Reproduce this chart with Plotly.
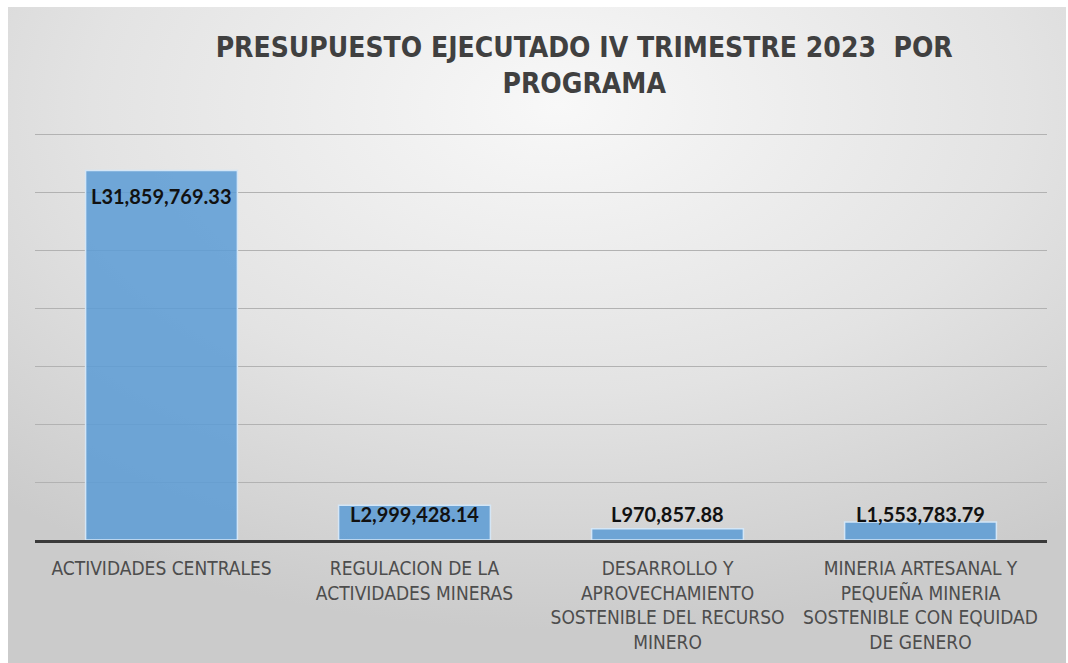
import base64

import plotly.graph_objects as go

W, H = 1068, 663

categories = [
    "ACTIVIDADES CENTRALES",
    "REGULACION DE LA<br>ACTIVIDADES MINERAS",
    "DESARROLLO Y<br>APROVECHAMIENTO<br>SOSTENIBLE DEL RECURSO<br>MINERO",
    "MINERIA ARTESANAL Y<br>PEQUEÑA MINERIA<br>SOSTENIBLE CON EQUIDAD<br>DE GENERO",
]
values = [31859769.33, 2999428.14, 970857.88, 1553783.79]
labels = [f"L{v:,.2f}" for v in values]

title_text = "PRESUPUESTO EJECUTADO IV TRIMESTRE 2023&nbsp; POR<br>PROGRAMA"

narrow = "Liberation Sans Narrow, DejaVu Sans Condensed, Arial Narrow, sans-serif"
label_font = "Lato, Open Sans, sans-serif"

# soft radial grey background like the Excel chart style
svg = (
    '<svg xmlns="http://www.w3.org/2000/svg" width="1058" height="656" '
    'preserveAspectRatio="none">'
    '<defs><radialGradient id="g" cx="52%" cy="15%" r="80%">'
    '<stop offset="0" stop-color="#f8f8f8"/>'
    '<stop offset="0.55" stop-color="#e3e3e3"/>'
    '<stop offset="1" stop-color="#cbcbcb"/>'
    "</radialGradient></defs>"
    '<rect width="100%" height="100%" fill="url(#g)"/></svg>'
)
bg_src = "data:image/svg+xml;base64," + base64.b64encode(svg.encode()).decode()

fig = go.Figure()

fig.add_trace(
    go.Bar(
        x=categories,
        y=values,
        marker=dict(
            color="rgba(91,155,213,0.85)",
            line=dict(color="#d4e6f6", width=1.5),
        ),
        width=0.6,
        hoverinfo="skip",
    )
)

# data labels: inside end for the tall bar, pushed just above the axis for the small ones
vmax = max(values)
for cat, v, txt in zip(categories, values, labels):
    if v > 0.1 * vmax:
        y, anchor, shift = v, "top", -12
    else:
        y, anchor, shift = 0, "bottom", 12
    fig.add_annotation(
        x=cat,
        y=y,
        text=f"<b>{txt}</b>",
        showarrow=False,
        yanchor=anchor,
        yshift=shift,
        font=dict(family=label_font, size=20, color="#111111"),
    )

y_top = 35.1e6
px_per = 406 / 35e6

fig.update_layout(
    width=W,
    height=H,
    margin=dict(l=0, r=0, t=0, b=0),
    paper_bgcolor="white",
    plot_bgcolor="rgba(0,0,0,0)",
    showlegend=False,
    bargap=0.4,
    title=dict(
        text=f"<b>{title_text}</b>",
        x=0.547,
        xanchor="center",
        y=1 - 57 / H,
        yanchor="top",
        font=dict(family=narrow, size=28, color="#404040"),
    ),
    images=[
        dict(
            source=bg_src,
            xref="paper",
            yref="paper",
            x=8 / W,
            y=1 - 7 / H,
            sizex=(W - 10) / W,
            sizey=(H - 7) / H,
            sizing="stretch",
            xanchor="left",
            yanchor="top",
            layer="below",
        )
    ],
    xaxis=dict(
        domain=[35 / W, 1047 / W],
        showline=True,
        linecolor="#3a3a3a",
        linewidth=3,
        layer="above traces",
        ticks="",
        tickfont=dict(family=narrow, size=19, color="#4d4d4d"),
        ticklabelstandoff=9,
    ),
    yaxis=dict(
        domain=[1 - 540 / H, 1 - (540 - y_top * px_per) / H],
        range=[0, y_top],
        dtick=5e6,
        showticklabels=False,
        showgrid=True,
        gridcolor="#b2b2b2",
        gridwidth=1,
        zeroline=False,
    ),
)

fig.write_html(
    "out.html",
    config={"displayModeBar": False},
    post_script="document.body.style.margin='0';",
)
